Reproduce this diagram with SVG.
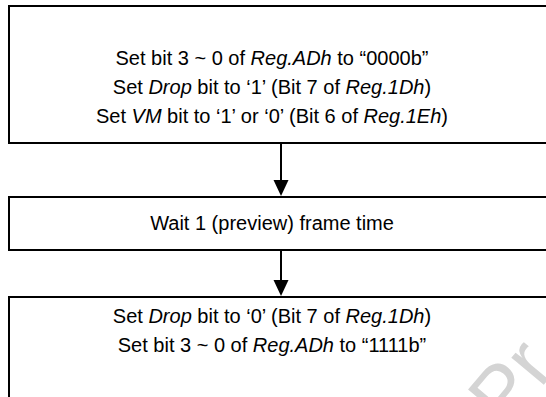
<svg xmlns="http://www.w3.org/2000/svg" width="546" height="397" viewBox="0 0 546 397">
<style>
.box{fill:#fff;stroke:#000;stroke-width:2}
.t{font-family:"Liberation Sans",Arial,sans-serif;font-size:20px;fill:#000;text-anchor:middle}
.i{font-style:italic}
.conn{stroke:#000;stroke-width:2;fill:none}
.head{fill:#000}
.wm{font-family:"Liberation Sans",Arial,sans-serif;font-size:80px;fill:#d4d4d4}
</style>
<rect width="546" height="397" fill="#fff"/>
<g id="node1">
<rect class="box" x="9" y="6" width="560" height="137"/>
<text class="t" x="272" y="65">Set bit 3 ~ 0 of <tspan class="i">Reg.ADh</tspan> to “0000b”</text>
<text class="t" x="272" y="94">Set <tspan class="i">Drop</tspan> bit to ‘1’ (Bit 7 of <tspan class="i">Reg.1Dh</tspan>)</text>
<text class="t" x="272" y="123">Set <tspan class="i">VM</tspan> bit to ‘1’ or ‘0’ (Bit 6 of <tspan class="i">Reg.1Eh</tspan>)</text>
</g>
<g id="node2">
<rect class="box" x="9" y="197" width="560" height="53"/>
<text class="t" x="272" y="230">Wait 1 (preview) frame time</text>
</g>
<g id="node3">
<rect class="box" x="9" y="297" width="560" height="130"/>
<text class="t" x="272" y="323">Set <tspan class="i">Drop</tspan> bit to ‘0’ (Bit 7 of <tspan class="i">Reg.1Dh</tspan>)</text>
<text class="t" x="272" y="352">Set bit 3 ~ 0 of <tspan class="i">Reg.ADh</tspan> to “1111b”</text>
</g>
<g id="connectors">
<line class="conn" x1="281" y1="143" x2="281" y2="181"/>
<polygon class="head" points="273.5,180 288.5,180 281,196"/>
<line class="conn" x1="281" y1="250" x2="281" y2="281"/>
<polygon class="head" points="273.5,280 288.5,280 281,296"/>
</g>
<text class="wm" x="506" y="430" transform="rotate(-50 506 430)">Pr</text>
</svg>
